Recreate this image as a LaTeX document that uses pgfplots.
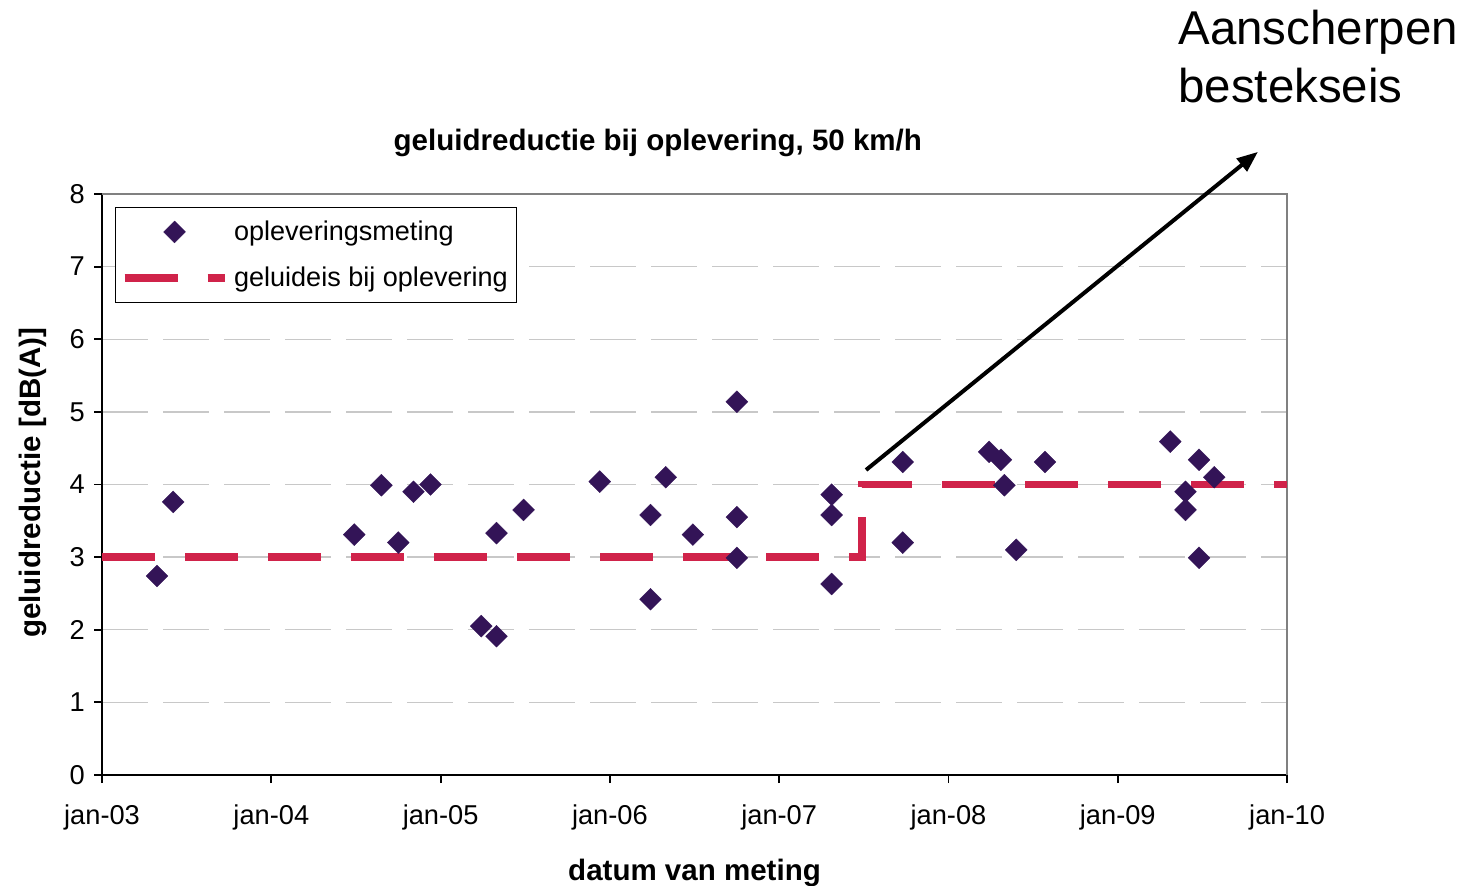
\documentclass[border=0pt]{standalone}
\usepackage{fontspec}
\setmainfont{Liberation Sans}
\usepackage{pgfplots}
\pgfplotsset{compat=1.18}
\usetikzlibrary{arrows.meta}
\definecolor{meetPaars}{HTML}{331457}
\definecolor{eisRood}{HTML}{D0234A}
\definecolor{rasterGrijs}{HTML}{C8C8C8}
\definecolor{randGrijs}{HTML}{808080}
\newcommand{\tickfont}{\fontsize{15.5}{18}\selectfont}
\newcommand{\legfont}{\fontsize{15.4}{18}\selectfont}
\newcommand{\labfont}{\fontsize{16.8}{20}\selectfont\bfseries}
\pgfplotsset{
  markLegend/.style={legend image code/.code={\path[draw=none] (0cm,0cm) -- (2cm,0cm);
    \draw[##1,only marks] plot coordinates {(1cm,0cm)};}},
  lineLegend/.style={legend image code/.code={\draw[##1] (0cm,0cm) -- (2cm,0cm);}},
}

\begin{document}
\begin{tikzpicture}
\begin{axis}[
  scale only axis,
  width=23.7cm,height=11.62cm,
  xmin=2003,xmax=2010,ymin=0,ymax=8,
  axis x line*=bottom,axis y line*=left,
  axis line style={black,line width=1.1pt,-},
  xtick={2003,2004,2005,2006,2007,2008,2009,2010},
  xticklabels={jan-03,jan-04,jan-05,jan-06,jan-07,jan-08,jan-09,jan-10},
  ytick={0,1,2,3,4,5,6,7,8},
  tick align=outside,
  major tick length=0.16cm,
  tick style={black,line width=1.1pt},
  tick label style={font=\tickfont},
  /pgf/number format/assume math mode=true,
  xticklabel style={yshift=-0.32cm},
  yticklabel style={xshift=-0.06cm},
  ymajorgrids,
  major grid style={rasterGrijs,line width=0.8pt,dash pattern=on 0.92cm off 0.3cm},
  every axis x label/.style={at={(rel axis cs:0.5,-0.168)},anchor=center},
  every axis y label/.style={at={(rel axis cs:-0.058,0.503)},rotate=90,anchor=center},
  xlabel={\labfont datum van meting},
  ylabel={\labfont geluidreductie [dB(A)]},
  clip=false,
  legend cell align=left,
  legend style={at={(rel axis cs:0.011,0.978)},anchor=north west,
    draw=black,line width=0.6pt,fill=white,font=\legfont,
    inner xsep=0.1cm,inner ysep=0.2cm,row sep=0.34cm,
    /tikz/every odd column/.append style={column sep=0.04cm}},
]
\draw[randGrijs,line width=0.9pt] (rel axis cs:0,1) -- (rel axis cs:1,1) -- (rel axis cs:1,0);

\addplot[only marks,mark=square*,mark size=4.4pt,
  mark options={rotate=45,fill=meetPaars,draw=meetPaars,line width=0.2pt},
  markLegend]
  coordinates {
  (2003.325,2.74) (2003.42,3.76)
  (2004.49,3.31) (2004.65,3.99) (2004.75,3.20) (2004.84,3.90) (2004.94,4.00)
  (2005.24,2.05) (2005.33,1.91) (2005.33,3.33) (2005.49,3.65)
  (2005.94,4.04) (2006.24,3.58) (2006.24,2.42) (2006.33,4.10) (2006.49,3.31)
  (2006.75,5.14) (2006.75,3.55) (2006.75,2.99)
  (2007.31,3.86) (2007.31,3.58) (2007.31,2.63)
  (2007.73,4.31) (2007.73,3.20)
  (2008.24,4.45) (2008.31,4.34) (2008.33,3.99) (2008.40,3.10) (2008.57,4.31)
  (2009.31,4.59) (2009.48,4.34) (2009.40,3.90) (2009.40,3.65) (2009.48,2.99) (2009.57,4.10)
  };
\addlegendentry{opleveringsmeting}

\addplot[eisRood,line width=4.5pt,dash pattern=on 1.06cm off 0.6cm,lineLegend]
  coordinates {(2003,3) (2007.489,3) (2007.489,4) (2010,4)};
\addlegendentry{geluideis bij oplevering}

\node[font=\labfont,anchor=center] at (rel axis cs:0.469,1.088)
  {geluidreductie bij oplevering, 50 km/h};

\draw[-{Triangle[length=0.42cm,width=0.32cm]},line width=0.08cm,black]
  (axis cs:2007.513,4.20) -- (axis cs:2009.828,8.58);

\node[anchor=north west,inner sep=0pt,align=left,
  font=\fontsize{27}{33}\selectfont] at (rel axis cs:0.908,1.317)
  {Aanscherpen\\bestekseis};

\coordinate (bl) at (rel axis cs:-0.0861,-0.191);
\coordinate (tr) at (rel axis cs:1.1527,1.3339);
\end{axis}
\pgfresetboundingbox
\path[use as bounding box] (bl) rectangle (tr);
\end{tikzpicture}
\end{document}
